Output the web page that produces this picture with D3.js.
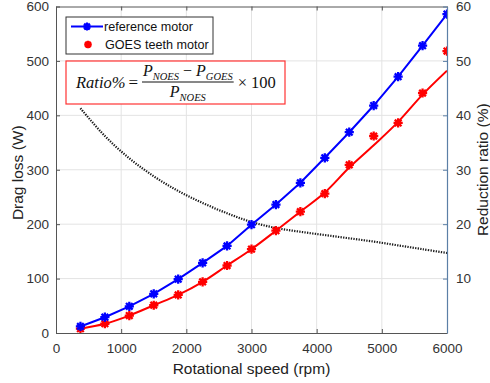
<!DOCTYPE html>
<html>
<head>
<meta charset="utf-8">
<script src="https://cdn.jsdelivr.net/npm/d3@7"></script>
<style>
  html, body { margin: 0; padding: 0; background: #fff; }
  svg { display: block; }
  text { font-family: "Liberation Sans", Arial, sans-serif; }
</style>
</head>
<body>
<svg id="chart" width="490" height="383"></svg>
<script>
// Rotational speed samples (rpm)
const speeds = [375, 750, 1125, 1500, 1875, 2250, 2625, 3000, 3375, 3750, 4125, 4500, 4875, 5250, 5625, 6000];
// Drag loss of the reference motor (W)
const referenceLoss = [12, 29, 49, 72, 99, 129, 160, 199, 236, 276, 322, 369, 418, 471, 528, 586];
// Measured drag loss of the GOES teeth motor (W)
const goesLoss = [8, 17, 32, 51, 70, 94, 124, 154, 188, 223, 256, 309, 362, 386, 441, 518];
// Fitted curve of the GOES teeth motor drag loss (W)
const goesFit = [8, 17, 32, 51, 70, 94, 124, 154, 188, 223, 258, 304, 345, 388, 438, 482];
// Reduction ratio (%)
const ratioSpeeds = [375, 750, 1125, 1500, 1875, 2250, 2625, 3000, 3375, 3750, 4125, 4500, 4875, 5250, 5625, 6000];
const ratioValues = [41.3, 36.2, 32.1, 28.8, 26.1, 23.9, 22.0, 20.4, 19.3, 18.6, 18.0, 17.4, 16.8, 16.1, 15.4, 14.7];
// Axis ticks
const xTicks = [0, 1000, 2000, 3000, 4000, 5000, 6000];
const yTicks = [0, 100, 200, 300, 400, 500, 600];
const y2Ticks = [10, 20, 30, 40, 50, 60];

const svg = d3.select("#chart");
const plotL = 56, plotR = 447, plotT = 6.5, plotB = 333;

const x = d3.scaleLinear().domain([0, 6000]).range([plotL, plotR]);
const y = d3.scaleLinear().domain([0, 600]).range([plotB, plotT]);
const y2 = d3.scaleLinear().domain([0, 60]).range([plotB, plotT]);

const axisColor = "#555";
const labelColor = "#333";

svg.append("defs").append("clipPath").attr("id", "plot-clip")
  .append("rect").attr("x", plotL).attr("y", plotT)
  .attr("width", plotR - plotL).attr("height", plotB - plotT);

// grid
const grid = svg.append("g");
grid.selectAll("line.gx").data(xTicks.slice(1, -1)).join("line")
  .attr("x1", d => x(d)).attr("x2", d => x(d))
  .attr("y1", plotT).attr("y2", plotB)
  .attr("stroke", "#e3e3e3").attr("stroke-width", 1);
grid.selectAll("line.gy").data(yTicks.slice(1, -1)).join("line")
  .attr("x1", plotL).attr("x2", plotR)
  .attr("y1", d => y(d)).attr("y2", d => y(d))
  .attr("stroke", "#e3e3e3").attr("stroke-width", 1);

// data layer, clipped to the plot box
const plot = svg.append("g").attr("clip-path", "url(#plot-clip)");

// asterisk marker (plus + cross)
function asterisk(r) {
  const d = r * 0.72;
  return `M${-r},0L${r},0M0,${-r}L0,${r}M${-d},${-d}L${d},${d}M${-d},${d}L${d},${-d}`;
}

const refData = speeds.map((s, i) => ({ s, v: referenceLoss[i] }));
const goesData = speeds.map((s, i) => ({ s, v: goesLoss[i] }));
const fitData = speeds.map((s, i) => ({ s, v: goesFit[i] }));
const ratioData = ratioSpeeds.map((s, i) => ({ s, v: ratioValues[i] }));

const lineY = d3.line().x(d => x(d.s)).y(d => y(d.v));
const lineY2 = d3.line().x(d => x(d.s)).y(d => y2(d.v)).curve(d3.curveCatmullRom);

// reduction ratio (dotted)
plot.append("path").datum(ratioData).attr("d", lineY2)
  .attr("fill", "none").attr("stroke", "#1a1a1a").attr("stroke-width", 2.2)
  .attr("stroke-dasharray", "1.3,1.3");

// GOES fit line
plot.append("path").datum(fitData).attr("d", lineY.curve(d3.curveMonotoneX))
  .attr("fill", "none").attr("stroke", "#ff0000").attr("stroke-width", 2);
// reference line
plot.append("path").datum(refData).attr("d", lineY.curve(d3.curveLinear))
  .attr("fill", "none").attr("stroke", "#0000ff").attr("stroke-width", 2);

// markers
plot.append("g").selectAll("path").data(goesData).join("path")
  .attr("transform", d => `translate(${x(d.s)},${y(d.v)})`)
  .attr("d", asterisk(4.6)).attr("stroke", "#ff0000").attr("stroke-width", 2.3).attr("fill", "none");
plot.append("g").selectAll("path").data(refData).join("path")
  .attr("transform", d => `translate(${x(d.s)},${y(d.v)})`)
  .attr("d", asterisk(4.6)).attr("stroke", "#0000ff").attr("stroke-width", 2.3).attr("fill", "none");

// axes (ticks pointing inward)
const tickFont = "13.5px";
const xAxis = svg.append("g").attr("transform", `translate(0,${plotB})`)
  .call(d3.axisBottom(x).tickValues(xTicks).tickFormat(d3.format("d")).tickSizeInner(-4).tickSizeOuter(0).tickPadding(8));
const xTop = svg.append("g").attr("transform", `translate(0,${plotT})`)
  .call(d3.axisTop(x).tickValues(xTicks).tickFormat("").tickSizeInner(-4).tickSizeOuter(0));
const yAxis = svg.append("g").attr("transform", `translate(${plotL},0)`)
  .call(d3.axisLeft(y).tickValues(yTicks).tickFormat(d3.format("d")).tickSizeInner(-4).tickSizeOuter(0).tickPadding(7));
const y2Axis = svg.append("g").attr("transform", `translate(${plotR},0)`)
  .call(d3.axisRight(y2).tickValues(y2Ticks).tickFormat(d3.format("d")).tickSizeInner(-4).tickSizeOuter(0).tickPadding(9));

[xAxis, xTop, yAxis].forEach(g => {
  g.select(".domain").attr("stroke", axisColor).attr("stroke-width", 1);
  g.selectAll(".tick line").attr("stroke", axisColor);
  g.selectAll(".tick text").attr("fill", labelColor).style("font-size", tickFont)
    .style("font-family", "'Liberation Sans', Arial, sans-serif");
});
y2Axis.select(".domain").attr("stroke", "#5b7fa6").attr("stroke-width", 1.2);
y2Axis.selectAll(".tick line").attr("stroke", "#5b7fa6");
y2Axis.selectAll(".tick text").attr("fill", labelColor).style("font-size", tickFont)
  .style("font-family", "'Liberation Sans', Arial, sans-serif");
xAxis.selectAll(".tick text").attr("dy", "0.9em");

// axis titles
svg.append("text").attr("x", (plotL + plotR) / 2).attr("y", 374)
  .attr("text-anchor", "middle").attr("fill", "#222").style("font-size", "15.5px")
  .text("Rotational speed (rpm)");
svg.append("text").attr("transform", `translate(23,${(plotT + plotB) / 2 + 3}) rotate(-90)`)
  .attr("text-anchor", "middle").attr("fill", "#222").style("font-size", "15.5px")
  .text("Drag loss (W)");
svg.append("text").attr("transform", `translate(488,${(plotT + plotB) / 2}) rotate(-90)`)
  .attr("text-anchor", "middle").attr("fill", "#222").style("font-size", "15.5px")
  .text("Reduction ratio (%)");

// legend
const lg = svg.append("g");
lg.append("rect").attr("x", 66).attr("y", 17).attr("width", 147).attr("height", 37)
  .attr("fill", "#fff").attr("stroke", "#333").attr("stroke-width", 1);
lg.append("line").attr("x1", 71).attr("x2", 103).attr("y1", 26.5).attr("y2", 26.5)
  .attr("stroke", "#0000ff").attr("stroke-width", 2);
lg.append("path").attr("transform", "translate(87,26.5)").attr("d", asterisk(4))
  .attr("stroke", "#0000ff").attr("stroke-width", 2.2).attr("fill", "none");
lg.append("text").attr("x", 104).attr("y", 31).attr("fill", "#111").style("font-size", "12.6px")
  .text("reference motor");
lg.append("path").attr("transform", "translate(88,44.5)").attr("d", asterisk(3.8))
  .attr("stroke", "#ff0000").attr("stroke-width", 2.4).attr("fill", "none");
lg.append("text").attr("x", 105).attr("y", 49).attr("fill", "#111").style("font-size", "12.6px")
  .text("GOES teeth motor");

// ratio formula box
const fb = svg.append("g");
fb.append("rect").attr("x", 66).attr("y", 61).attr("width", 219).attr("height", 43)
  .attr("fill", "#fff").attr("stroke", "#ff3333").attr("stroke-width", 1.2);

const serif = "'Liberation Serif', 'DejaVu Serif', serif";
fb.append("text").attr("x", 76).attr("y", 87.5).attr("fill", "#111")
  .style("font-family", serif).style("font-style", "italic").style("font-size", "16.5px")
  .text("Ratio%");
fb.append("text").attr("x", 128.5).attr("y", 87.5).attr("fill", "#111")
  .style("font-family", serif).style("font-size", "17px").text("=");

function pterm(g, xPos, yPos, sub) {
  const t = g.append("text").attr("x", xPos).attr("y", yPos).attr("fill", "#111")
    .style("font-family", serif).style("font-style", "italic");
  t.append("tspan").style("font-size", "16px").text("P");
  t.append("tspan").attr("dy", 3.5).style("font-size", "10.5px").text(sub);
  return t;
}
const numX = 143;
const n1 = pterm(fb, numX, 76, "NOES");
const w1 = n1.node().getComputedTextLength();
const minus = fb.append("text").attr("x", numX + w1 + 4).attr("y", 76).attr("fill", "#111")
  .style("font-family", serif).style("font-size", "16px").text("\u2212");
const wm = minus.node().getComputedTextLength();
const n2 = pterm(fb, numX + w1 + 4 + wm + 4, 76, "GOES");
const w2 = n2.node().getComputedTextLength();
const numW = w1 + 8 + wm + w2;
fb.append("line").attr("x1", numX - 1).attr("x2", numX + numW + 1)
  .attr("y1", 82).attr("y2", 82).attr("stroke", "#111").attr("stroke-width", 1);
const den = pterm(fb, 0, 97, "NOES");
const wd = den.node().getComputedTextLength();
den.attr("x", numX + (numW - wd) / 2);
fb.append("text").attr("x", numX + numW + 5).attr("y", 88).attr("fill", "#111")
  .style("font-family", serif).style("font-size", "16.5px").text("\u00d7 100");
</script>
</body>
</html>
